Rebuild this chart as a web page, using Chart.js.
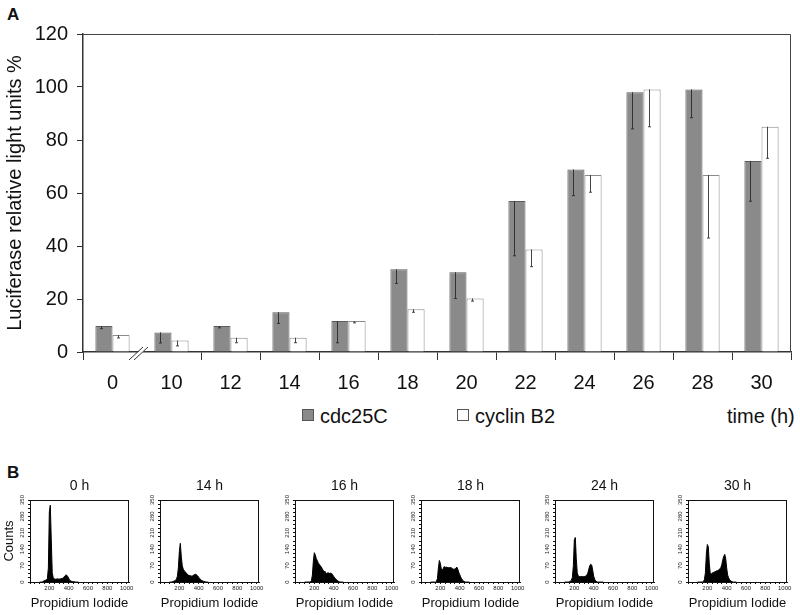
<!DOCTYPE html>
<html>
<head>
<meta charset="utf-8">
<script src="https://cdn.jsdelivr.net/npm/chart.js@4.4.0/dist/chart.umd.min.js"></script>
<style>
  body { margin: 0; background: #fff; width: 800px; height: 615px; position: relative; overflow: hidden;
         font-family: "Liberation Sans", Arial, sans-serif; color: #111; }
  canvas { position: absolute; }
  .lbl { position: absolute; line-height: 1; white-space: nowrap; }
  .sq { position: absolute; width: 10px; height: 10px; border: 1px solid #555; }
</style>
</head>
<body>
<div class="lbl" style="left:7px;top:6px;font-size:17px;font-weight:bold">A</div>
<div class="lbl" style="left:7px;top:464px;font-size:17px;font-weight:bold">B</div>

<canvas id="luc" width="800" height="400" style="left:0;top:0;width:800px;height:400px"></canvas>

<div class="sq" style="left:302px;top:409px;background:#8a8a8a"></div>
<div class="lbl" style="left:320px;top:406px;font-size:20px">cdc25C</div>
<div class="sq" style="left:457px;top:409px;background:#fff"></div>
<div class="lbl" style="left:475px;top:406px;font-size:20px">cyclin B2</div>
<div class="lbl" style="left:727px;top:406px;font-size:20px">time (h)</div>

<canvas id="h0"></canvas>
<canvas id="h14"></canvas>
<canvas id="h16"></canvas>
<canvas id="h18"></canvas>
<canvas id="h24"></canvas>
<canvas id="h30"></canvas>

<script>
// panel A: luciferase activity, % of maximum
const hours = ["0", "10", "12", "14", "16", "18", "20", "22", "24", "26", "28", "30"];
const cdc25C = [9.8, 7.4, 9.8, 15.0, 11.7, 31.2, 30.1, 57.0, 68.9, 98.0, 99.1, 72.1];
const cdc25CErr = [1.0, 4.0, 0.7, 4.2, 8.2, 5.3, 9.9, 20.7, 9.9, 13.8, 10.7, 15.2];
const cyclinB2 = [6.4, 4.3, 5.4, 5.4, 11.7, 16.1, 20.2, 38.7, 66.8, 99.1, 66.8, 85.0];
const cyclinB2Err = [1.1, 2.0, 1.9, 1.9, 0.7, 1.1, 1.0, 6.5, 6.5, 14.1, 23.8, 11.9];

// panel B: propidium iodide histograms (counts per channel)
const piChannels = [100, 110, 120, 130, 140, 150, 160, 170, 180, 190, 200, 210, 220, 230, 240, 250, 260, 270, 280, 290,
  300, 310, 320, 330, 340, 350, 360, 370, 380, 390, 400, 410, 420, 430, 440, 450, 460, 470, 480, 490, 500];
const counts0h = [0, 0, 0, 1, 4, 6, 8, 10, 15, 60, 300, 328, 180, 40, 18, 14, 12, 12, 14, 12,
  13, 12, 14, 15, 16, 20, 26, 30, 29, 24, 16, 8, 5, 3, 2, 2, 1, 0, 0, 0, 0];
const counts14h = [0, 0, 0, 2, 3, 5, 8, 12, 25, 60, 130, 165, 110, 70, 55, 48, 44, 40, 34, 30,
  28, 26, 26, 25, 27, 30, 32, 33, 30, 26, 20, 15, 11, 7, 5, 3, 2, 1, 0, 0, 0];
const counts16h = [0, 0, 0, 0, 0, 0, 2, 6, 30, 90, 125, 115, 100, 92, 82, 76, 70, 66, 58, 50,
  46, 42, 38, 36, 40, 38, 36, 38, 36, 30, 24, 18, 14, 9, 6, 3, 1, 0, 0, 0, 0];
const counts18h = [0, 0, 0, 0, 0, 0, 3, 15, 60, 92, 80, 55, 50, 58, 66, 62, 64, 62, 62, 60,
  62, 60, 58, 56, 54, 56, 58, 64, 55, 42, 32, 22, 14, 8, 4, 2, 0, 0, 0, 0, 0];
const counts24h = [0, 0, 0, 0, 0, 2, 4, 8, 20, 70, 180, 190, 100, 40, 26, 24, 22, 24, 23, 22,
  23, 24, 26, 30, 38, 55, 70, 76, 72, 50, 25, 12, 5, 2, 0, 0, 0, 0, 0, 0, 0];
const counts30h = [0, 0, 0, 0, 0, 0, 3, 10, 40, 120, 160, 150, 80, 36, 34, 38, 40, 42, 44, 46,
  48, 50, 52, 56, 62, 75, 95, 110, 118, 100, 60, 30, 18, 10, 6, 3, 1, 0, 0, 0, 0];

const FONT = "'Liberation Sans', Arial, sans-serif";

// draws the lower half of each error bar, from the bar top downward
const errorBars = {
  id: "errorBars",
  afterDatasetsDraw(chart) {
    const ctx = chart.ctx;
    const yScale = chart.scales.y;
    chart.data.datasets.forEach((ds, i) => {
      chart.getDatasetMeta(i).data.forEach((bar, j) => {
        const x = Math.round(bar.x - bar.width * 0.15) + 0.5;
        const low = yScale.getPixelForValue(ds.data[j] - ds.errors[j]);
        ctx.save();
        ctx.strokeStyle = ds.errColor;
        ctx.lineWidth = 1;
        ctx.beginPath();
        ctx.moveTo(x, bar.y);
        ctx.lineTo(x, low);
        ctx.moveTo(x - 1.5, low);
        ctx.lineTo(x + 1.5, low);
        ctx.stroke();
        ctx.restore();
      });
    });
  }
};

const frame = {
  id: "frame",
  afterDraw(chart, args, opts) {
    const { left, right, top, bottom } = chart.chartArea;
    const ctx = chart.ctx;
    ctx.save();
    ctx.strokeStyle = opts.color || "#444";
    ctx.lineWidth = 1;
    ctx.beginPath();
    ctx.moveTo(left, top + 0.5);
    ctx.lineTo(right - 0.5, top + 0.5);
    ctx.lineTo(right - 0.5, bottom);
    ctx.stroke();
    ctx.restore();
  }
};

// the "//" break on the time axis between 0 h and 10 h
const axisBreak = {
  id: "axisBreak",
  afterDraw(chart) {
    const xs = chart.scales.x;
    const cx = (xs.getPixelForValue(0) + xs.getPixelForValue(1)) / 2 - 2;
    const by = chart.chartArea.bottom;
    const ctx = chart.ctx;
    ctx.save();
    ctx.fillStyle = "#fff";
    ctx.beginPath();
    ctx.moveTo(cx - 10, by + 7);
    ctx.lineTo(cx + 3, by - 4);
    ctx.lineTo(cx + 8, by - 4);
    ctx.lineTo(cx - 5, by + 7);
    ctx.closePath();
    ctx.fill();
    ctx.strokeStyle = "#333";
    ctx.lineWidth = 1;
    ctx.beginPath();
    ctx.moveTo(cx - 11, by + 8);
    ctx.lineTo(cx + 3, by - 5);
    ctx.moveTo(cx - 6, by + 8);
    ctx.lineTo(cx + 8, by - 5);
    ctx.stroke();
    ctx.restore();
  }
};

new Chart(document.getElementById("luc"), {
  type: "bar",
  data: {
    labels: hours,
    datasets: [
      {
        label: "cdc25C",
        data: cdc25C,
        errors: cdc25CErr,
        errColor: "#333",
        backgroundColor: "#8a8a8a",
        borderColor: "#5c5c5c",
        borderWidth: 1,
        categoryPercentage: 0.58,
        barPercentage: 1.0
      },
      {
        label: "cyclin B2",
        data: cyclinB2,
        errors: cyclinB2Err,
        errColor: "#444",
        backgroundColor: "#fff",
        borderColor: "#8c8c8c",
        borderWidth: 1,
        categoryPercentage: 0.58,
        barPercentage: 1.0
      }
    ]
  },
  options: {
    responsive: false,
    animation: false,
    layout: { padding: { left: 0, top: 34, right: 9, bottom: 0 } },
    plugins: { legend: { display: false }, tooltip: { enabled: false }, frame: { color: "#444" } },
    scales: {
      x: {
        offset: true,
        afterFit: (s) => { s.height = 48; },
        grid: {
          offset: true,
          drawOnChartArea: false,
          tickLength: 8,
          tickColor: (c) => (c.index === 1 ? "rgba(0,0,0,0)" : "#333")
        },
        border: { color: "#333", width: 1.5 },
        ticks: { font: { family: FONT, size: 20 }, color: "#111", padding: 11, autoSkip: false, maxRotation: 0 }
      },
      y: {
        min: 0,
        max: 120,
        afterFit: (s) => { s.width = 83; },
        grid: { drawOnChartArea: false, tickLength: 6, tickColor: "#333" },
        border: { color: "#333", width: 1.5 },
        ticks: { stepSize: 20, font: { family: FONT, size: 20 }, color: "#111", padding: 9 },
        title: {
          display: true,
          text: "Luciferase relative light units %",
          font: { family: FONT, size: 20 },
          color: "#111",
          padding: { top: 3, bottom: 0 }
        }
      }
    }
  },
  plugins: [errorBars, frame, axisBreak]
});

const boxFrame = {
  id: "boxFrame",
  afterDraw(chart) {
    const { left, right, top, bottom } = chart.chartArea;
    const ctx = chart.ctx;
    ctx.save();
    ctx.strokeStyle = "#111";
    ctx.lineWidth = 1;
    ctx.strokeRect(left + 0.5, top + 0.5, right - left - 1, bottom - top);
    ctx.restore();
  }
};

function histogram(id, title, counts, boxLeft, showCounts) {
  const yw = showCounts ? 30 : 18;
  const w = yw + 99 + 8;
  const h = 145;
  const cv = document.getElementById(id);
  cv.width = w;
  cv.height = h;
  cv.style.left = (boxLeft - yw) + "px";
  cv.style.top = "470px";
  cv.style.width = w + "px";
  cv.style.height = h + "px";

  new Chart(cv, {
    type: "line",
    data: {
      datasets: [{
        data: piChannels.map((c, i) => ({ x: c, y: counts[i] })),
        borderColor: "#000",
        backgroundColor: "#000",
        borderWidth: 1,
        fill: "origin",
        pointRadius: 0,
        tension: 0
      }]
    },
    options: {
      responsive: false,
      animation: false,
      layout: { padding: { left: 0, top: 0, right: 8, bottom: 0 } },
      plugins: {
        legend: { display: false },
        tooltip: { enabled: false },
        title: {
          display: true,
          text: title,
          fullSize: false,
          font: { family: FONT, size: 14, weight: "normal" },
          color: "#111",
          padding: { top: 7.6, bottom: 5.6 }
        }
      },
      scales: {
        x: {
          type: "linear",
          min: 0,
          max: 1024,
          afterFit: (s) => { s.height = 33; },
          grid: { drawOnChartArea: false, tickLength: 2, tickColor: "#111" },
          border: { color: "#111", width: 1 },
          ticks: {
            stepSize: 50,
            includeBounds: false,
            autoSkip: false,
            maxRotation: 0,
            padding: 1,
            font: { family: FONT, size: 6 },
            color: "#222",
            callback: (v) => (v > 0 && v % 200 === 0 ? v : "")
          },
          title: {
            display: true,
            text: "Propidium Iodide",
            font: { family: FONT, size: 13 },
            color: "#111",
            padding: { top: 0, bottom: 4 }
          }
        },
        y: {
          min: 0,
          max: 350,
          afterFit: (s) => { s.width = yw; },
          grid: { drawOnChartArea: false, tickLength: 2, tickColor: "#111" },
          border: { color: "#111", width: 1 },
          ticks: {
            stepSize: 17.5,
            includeBounds: false,
            autoSkip: false,
            minRotation: 90,
            maxRotation: 90,
            crossAlign: "center",
            padding: 1,
            font: { family: FONT, size: 6 },
            color: "#222",
            callback: (v) => (Math.round(v) % 70 === 0 ? Math.round(v) : "")
          },
          title: {
            display: showCounts,
            text: "Counts",
            font: { family: FONT, size: 13 },
            color: "#111",
            padding: { top: 2, bottom: 0 }
          }
        }
      }
    },
    plugins: [boxFrame]
  });
}

histogram("h0", "0 h", counts0h, 30, true);
histogram("h14", "14 h", counts14h, 160, false);
histogram("h16", "16 h", counts16h, 295, false);
histogram("h18", "18 h", counts18h, 421, false);
histogram("h24", "24 h", counts24h, 555, false);
histogram("h30", "30 h", counts30h, 688, false);
</script>
</body>
</html>
